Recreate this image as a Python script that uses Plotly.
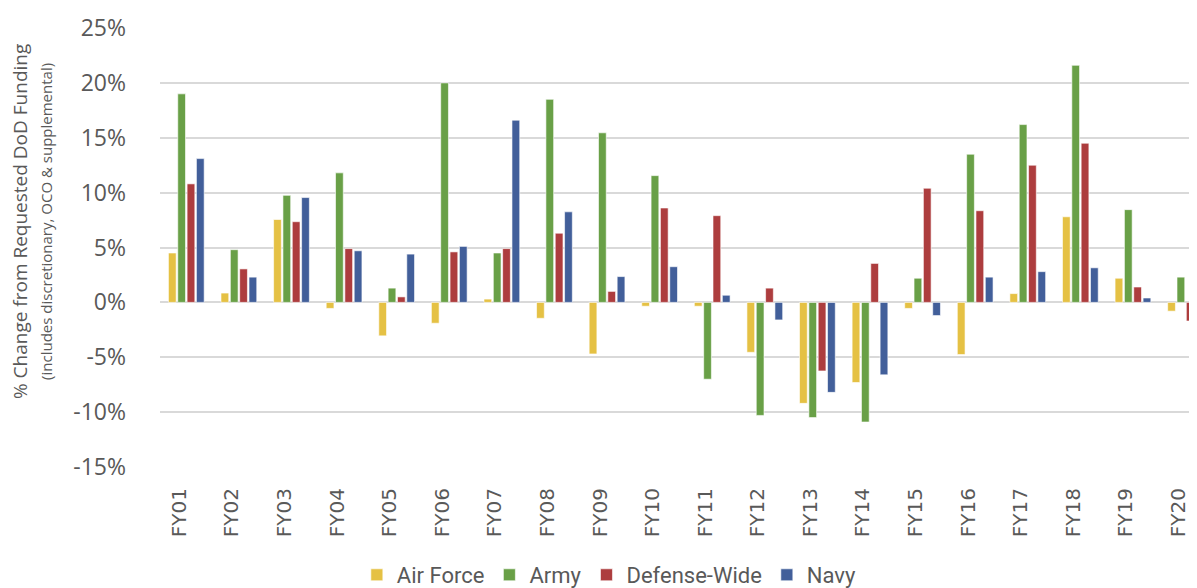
import plotly.graph_objects as go

years = ['FY01', 'FY02', 'FY03', 'FY04', 'FY05', 'FY06', 'FY07', 'FY08', 'FY09', 'FY10',
         'FY11', 'FY12', 'FY13', 'FY14', 'FY15', 'FY16', 'FY17', 'FY18', 'FY19', 'FY20']

air_force = [4.5, 0.85, 7.55, -0.55, -3.05, -1.9, 0.3, -1.45, -4.7, -0.35,
             -0.35, -4.55, -9.2, -7.3, -0.55, -4.75, 0.8, 7.8, 2.2, -0.8]
army = [19.0, 4.8, 9.75, 11.8, 1.3, 20.0, 4.5, 18.5, 15.45, 11.55,
        -7.0, -10.3, -10.5, -10.9, 2.2, 13.5, 16.2, 21.6, 8.45, 2.3]
defense_wide = [10.8, 3.05, 7.35, 4.9, 0.5, 4.6, 4.9, 6.3, 1.0, 8.6,
                7.9, 1.3, -6.25, 3.55, 10.4, 8.35, 12.5, 14.5, 1.4, -1.7]
navy = [13.1, 2.3, 9.55, 4.7, 4.4, 5.1, 16.6, 8.25, 2.35, 3.25,
        0.65, -1.6, -8.2, -6.6, -1.2, 2.3, 2.8, 3.15, 0.4, None]

y_ticks = [-15, -10, -5, 0, 5, 10, 15, 20, 25]
y_labels = ['-15%', '-10%', '-5%', '0%', '5%', '10%', '15%', '20%', '25%']

series = [
    ('Air Force', air_force, '#E5C144'),
    ('Army', army, '#69A047'),
    ('Defense-Wide', defense_wide, '#AD3D3E'),
    ('Navy', navy, '#425F9A'),
]

TEXT = '#595959'

fig = go.Figure()
for name, vals, color in series:
    fig.add_trace(go.Bar(
        x=years, y=vals, name=name,
        marker=dict(color=color, line=dict(color='rgba(255,255,255,0.6)', width=1)),
    ))

fig.update_layout(
    width=1197, height=588,
    barmode='group', bargap=0.29, bargroupgap=0.17,
    plot_bgcolor='white', paper_bgcolor='white',
    margin=dict(l=152, r=0, t=20, b=121),
    font=dict(family='Open Sans', color=TEXT),
    legend=dict(
        orientation='h', x=0.43, xanchor='center', y=-0.246, yanchor='middle',
        font=dict(family='Liberation Sans Narrow, Roboto, Liberation Sans', size=22, color=TEXT),
        itemwidth=30, traceorder='normal',
    ),
)

fig.update_yaxes(
    range=[-15, 25], tickvals=y_ticks, ticktext=y_labels,
    showgrid=True, gridcolor='#D9D9D9', gridwidth=1.5,
    zeroline=True, zerolinecolor='#D9D9D9', zerolinewidth=1.5,
    showline=False, ticks='', ticklabelstandoff=33,
    tickfont=dict(size=23, color=TEXT),
)
fig.update_xaxes(
    range=[-0.5, 19.37], tickangle=-90, showgrid=False, showline=False,
    ticks='', tickfont=dict(family='DejaVu Sans', size=20, color=TEXT),
    ticklabelstandoff=16, ticklabelshift=-7,
)

fig.add_annotation(
    xref='paper', yref='paper', x=-0.123, y=0.559,
    xanchor='center', yanchor='middle', textangle=-90, showarrow=False,
    text='% Change from Requested DoD Funding<br>'
         '<span style="font-size:15px">(includes discretionary, OCO &amp; supplemental)</span>',
    font=dict(size=19, color=TEXT),
)

fig.write_html("out.html")
